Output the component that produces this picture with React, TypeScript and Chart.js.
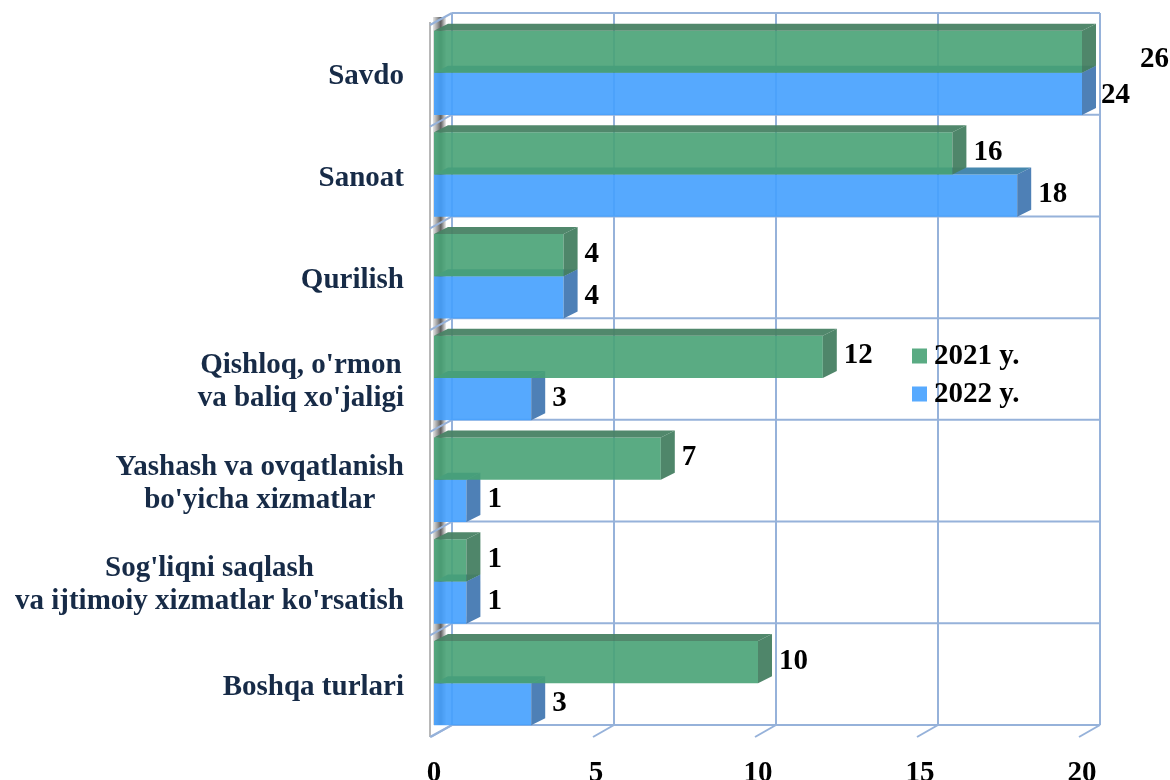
import { useEffect, useRef } from "react";
import { Chart, registerables } from "chart.js";

Chart.register(...registerables);

const categories: string[][] = [
  ["Savdo"],
  ["Sanoat"],
  ["Qurilish"],
  ["Qishloq, o'rmon", "va baliq xo'jaligi"],
  ["Yashash va ovqatlanish", "bo'yicha xizmatlar"],
  ["Sog'liqni saqlash", "va ijtimoiy xizmatlar ko'rsatish"],
  ["Boshqa turlari"],
];
const values2021 = [26, 16, 4, 12, 7, 1, 10];
const values2022 = [24, 18, 4, 3, 1, 1, 3];
const seriesNames = ["2021 y.", "2022 y."];
const xMin = 0;
const xMax = 20;
const xStep = 5;

const FONT = "'Liberation Serif', 'Times New Roman', serif";
const frontColors = ["rgba(72,162,117,0.9)", "rgba(68,160,254,0.9)"];
const legendColors = ["#5aab83", "#57aaff"];
const topColors = ["rgba(72,130,100,0.95)", "rgba(60,130,170,0.95)"];
const sideColors = ["rgba(70,128,98,0.95)", "rgba(72,124,180,0.97)"];
const gridColor = "rgba(150,178,218,1)";

export default function App() {
  const ref = useRef<HTMLCanvasElement>(null);

  useEffect(() => {
    const canvas = ref.current!;
    const BDX = 18, BDY = -9; // back wall offset
    const DX = 14, DY = -7; // bar depth

    const boundaries = (chart: any) => {
      const y = chart.scales.y;
      const n = categories.length;
      const band = (y.getPixelForValue(n - 1) - y.getPixelForValue(0)) / (n - 1);
      const arr: number[] = [];
      for (let i = 0; i <= n; i++) arr.push(y.getPixelForValue(0) - band / 2 + i * band);
      return arr;
    };

    const wallPlugin = {
      id: "wall3d",
      beforeDatasetsDraw(chart: any) {
        const { ctx, chartArea, scales } = chart;
        const { left, top, bottom } = chartArea;
        const x = scales.x;
        const bnd = boundaries(chart);
        const fl = left - 4;
        const bl = x.getPixelForValue(xMin) + BDX;
        ctx.save();
        const g = ctx.createLinearGradient(fl + 3, 0, fl + 16, 0);
        g.addColorStop(0, "#e4e4e4");
        g.addColorStop(0.35, "#9a9a9a");
        g.addColorStop(0.6, "#5e5e5e");
        g.addColorStop(1, "#ededed");
        ctx.fillStyle = g;
        ctx.fillRect(fl + 3, top + BDY + 4, 13, bottom - top - 4);
        ctx.strokeStyle = "#b8b8b8";
        ctx.lineWidth = 2;
        ctx.beginPath();
        ctx.moveTo(fl, top);
        ctx.lineTo(fl, bottom + 3);
        ctx.stroke();
        ctx.strokeStyle = gridColor;
        ctx.lineWidth = 2;
        for (let v = xMin; v <= xMax; v += xStep) {
          const px = x.getPixelForValue(v) + BDX;
          ctx.beginPath();
          ctx.moveTo(px, top + BDY);
          ctx.lineTo(px, bottom + BDY);
          ctx.stroke();
          ctx.beginPath();
          ctx.moveTo(px, bottom + BDY);
          ctx.lineTo(px - BDX - 3, bottom + 3);
          ctx.stroke();
        }
        for (const b of bnd) {
          ctx.beginPath();
          ctx.moveTo(bl, b + BDY);
          ctx.lineTo(x.getPixelForValue(xMax) + BDX, b + BDY);
          ctx.stroke();
          ctx.beginPath();
          ctx.moveTo(fl, b + 3);
          ctx.lineTo(bl, b + BDY);
          ctx.stroke();
        }
        ctx.restore();
      },
    };

    const bar3dPlugin = {
      id: "bar3d",
      afterDatasetDraw(chart: any, args: any) {
        const { ctx, chartArea } = chart;
        const idx = args.index;
        const meta = args.meta;
        ctx.save();
        meta.data.forEach((el: any) => {
          const p = el.getProps(["x", "y", "base", "height"], true);
          const x0 = p.base;
          const x1 = Math.min(p.x, chartArea.right);
          const yT = p.y - p.height / 2;
          const yB = p.y + p.height / 2;
          ctx.fillStyle = topColors[idx];
          ctx.beginPath();
          ctx.moveTo(x0, yT);
          ctx.lineTo(x1, yT);
          ctx.lineTo(x1 + DX, yT + DY);
          ctx.lineTo(x0 + DX, yT + DY);
          ctx.closePath();
          ctx.fill();
          ctx.fillStyle = sideColors[idx];
          ctx.beginPath();
          ctx.moveTo(x1, yT);
          ctx.lineTo(x1 + DX, yT + DY);
          ctx.lineTo(x1 + DX, yB + DY);
          ctx.lineTo(x1, yB);
          ctx.closePath();
          ctx.fill();
        });
        ctx.restore();
      },
    };

    const labelsPlugin = {
      id: "labels3d",
      afterDatasetsDraw(chart: any) {
        const { ctx, chartArea } = chart;
        ctx.save();
        ctx.font = `bold 29px ${FONT}`;
        ctx.fillStyle = "#000";
        ctx.textAlign = "left";
        ctx.textBaseline = "middle";
        chart.data.datasets.forEach((ds: any, di: number) => {
          const meta = chart.getDatasetMeta(di);
          meta.data.forEach((el: any, i: number) => {
            const v = ds.data[i];
            const p = el.getProps(["x", "y"], true);
            const clipped = v > xMax;
            const end = Math.min(p.x, chartArea.right);
            let lx = end + 21;
            let ly = p.y - 1;
            if (clipped && di === 0) {
              lx = end + 58;
              ly = p.y + 8;
            } else if (clipped) {
              lx = end + 19;
              ly = p.y + 2;
            }
            ctx.fillText(String(v), lx, ly);
          });
        });
        ctx.restore();
      },
    };

    const textPlugin = {
      id: "textExtras",
      afterDraw(chart: any) {
        const { ctx, chartArea, scales } = chart;
        const y = scales.y;
        ctx.save();
        ctx.font = `bold 29px ${FONT}`;
        ctx.fillStyle = "#172b47";
        ctx.textAlign = "center";
        ctx.textBaseline = "middle";
        const rightEdge = chartArea.left - 30;
        const lh = 33;
        categories.forEach((lines, i) => {
          const cy = y.getPixelForValue(i) + 4;
          const maxW = Math.max(...lines.map((l) => ctx.measureText(l).width));
          const cx = rightEdge - maxW / 2;
          lines.forEach((l, k) => {
            const ly = cy + (k - (lines.length - 1) / 2) * lh;
            ctx.fillText(l, cx, ly);
          });
        });
        const lx = chartArea.left + 478;
        const ly0 = chartArea.top + 334;
        ctx.textAlign = "left";
        seriesNames.forEach((name, i) => {
          const cy = ly0 + i * 38;
          ctx.fillStyle = legendColors[i];
          ctx.fillRect(lx, cy - 7.5, 15, 15);
          ctx.fillStyle = "#000";
          ctx.fillText(name, lx + 22, cy + 1);
        });
        ctx.restore();
      },
    };

    const chart = new Chart(canvas, {
      type: "bar",
      data: {
        labels: categories.map((c) => c.join(" ")),
        datasets: [
          { label: seriesNames[0], data: values2021, backgroundColor: frontColors[0], borderWidth: 0 },
          { label: seriesNames[1], data: values2022, backgroundColor: frontColors[1], borderWidth: 0 },
        ],
      },
      options: {
        indexAxis: "y",
        animation: false,
        responsive: true,
        maintainAspectRatio: false,
        layout: { padding: { left: 0, right: 88, top: 22, bottom: 0 } },
        datasets: { bar: { categoryPercentage: 0.83, barPercentage: 1 } },
        plugins: { legend: { display: false }, tooltip: { enabled: false } },
        scales: {
          x: {
            min: xMin,
            max: xMax,
            ticks: {
              stepSize: xStep,
              color: "#000",
              font: { family: FONT, size: 29, weight: "bold" },
              padding: 22,
            },
            grid: { display: false, drawTicks: false },
            border: { display: false },
            afterFit: (axis: any) => {
              axis.height = 46;
            },
          },
          y: {
            ticks: { display: false },
            grid: { display: false, drawTicks: false },
            border: { display: false },
            afterFit: (axis: any) => {
              axis.width = 434;
            },
          },
        },
      },
      plugins: [wallPlugin, bar3dPlugin, labelsPlugin, textPlugin],
    } as any);

    return () => chart.destroy();
  }, []);

  return (
    <div style={{ position: "fixed", left: 0, top: 0, width: 1170, height: 780, background: "#fff" }}>
      <canvas ref={ref} />
    </div>
  );
}
